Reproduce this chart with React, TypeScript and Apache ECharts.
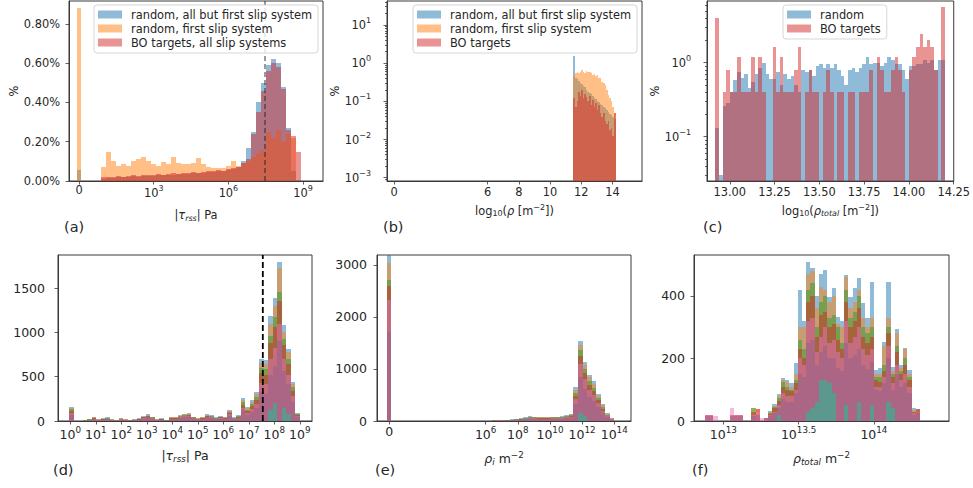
import React, { useEffect, useRef } from 'react';
import * as echarts from 'echarts';

// ================= DATA =================
// (a) |tau_rss| histogram, x in log10(Pa), y in %
const aBinStart = 0.9;
const aBinWidth = 0.2;
const aZeroBin = [-0.07, 0.07];
const aZeroOrange = 0.88;
const aZeroBlue = 0.055;
const aBlue = [0.01,0.015,0.015,0.02,0.02, 0.02,0.025,0.02,0.025,0.025, 0.025,0.03,0.03,0.03,0.03, 0.035,0.035,0.035,0.04,0.04, 0.04,0.045,0.045,0.05,0.05, 0.055,0.06,0.07,0.10,0.17, 0.25,0.40,0.50,0.59,0.62, 0.60,0.48,0.27,0.05,0];
const aOrange = [0.07,0.15,0.10,0.076,0.085, 0.076,0.10,0.11,0.12,0.10, 0.085,0.076,0.095,0.085,0.12, 0.093,0.085,0.088,0.093,0.115, 0.085,0.07,0.064,0.068,0.064, 0.076,0.10,0.076,0.093,0.10, 0.12,0.14,0.16,0.25,0.22, 0.26,0.20,0.24,0.22,0];
const aRed = [0.02,0.02,0.02,0.025,0.02, 0.025,0.03,0.025,0.03,0.03, 0.03,0.035,0.03,0.035,0.04, 0.035,0.04,0.04,0.045,0.04, 0.045,0.05,0.05,0.055,0.05, 0.06,0.065,0.07,0.09,0.11, 0.24,0.35,0.46,0.56,0.60, 0.58,0.47,0.26,0.23,0.15];
const aThreshold = 7.47;
const aXTicks = [0, 3, 6, 9];
const aYTicks = [0, 0.2, 0.4, 0.6, 0.8];

// (b) log10(rho) histogram, y in % (log scale)
const bBinStart = 11.5;
const bBinWidth = 0.1;
const bBlue = [1.5,0.42,0.38,0.34,0.31,0.28,0.25,0.23,0.2,0.18, 0.17,0.155,0.14,0.125,0.115,0.105,0.095,0.085,0.078,0.07, 0.065,0.058,0.052,0.047,0.043,0.04,0.035];
const bOrange = [0.5,0.55,0.6,0.55,0.6,0.65,0.6,0.55,0.62,0.58, 0.6,0.55,0.5,0.52,0.45,0.48,0.42,0.4,0.33,0.3, 0.26,0.2,0.15,0.12,0.1,0.07,0.05];
const bRed = [0.12,0.07,0.1,0.18,0.14,0.2,0.12,0.16,0.13,0.1, 0.14,0.08,0.11,0.07,0.09,0.06,0.08,0.05,0.04,0.05, 0.03,0.025,0.03,0.018,0.02,0.012,0.05];
const bXTicks = [0, 6, 8, 10, 12, 14];
const bYDecades = [-3, -2, -1, 0, 1];

// (c) log10(rho_total) histogram, y in % (log scale)
const cBinStart = 12.92;
const cBinWidth = 0.02;
const cBlue = [0.13,0.03,0.26,0.28,0.4,0.58,0.75,0.62,0.7,0.45, 0.55,0.7,0.85,1.0,0.7,0.6,0.6,0.75,0.5,0.7, 0.6,0.65,0.5,0.4,0.8,0.75,0.8,0.65,0.9,0.95, 0.85,0.95,0.85,0.95,0.8,0.65,0.5,0.8,0.85,0.75, 0.85,0.95,1.2,0.95,1.0,1.0,0.9,1.0,1.2,1.1, 0.95,0.95,0.8,0.6,0.9,0.9,0.95,0.95,1.1,1.0, 1.1,0.8,1.1,1.1];
const cRed = [4.0,0,0.4,0.8,0.4,0.4,1.2,0.4,0.4,0.4, 1.2,0.4,1.2,0.4,0,0,1.6,0.4,1.2,0.4, 0.4,0.4,0.8,1.6,0,0.4,0.8,0.4,0.4,0, 0.4,0.8,0.4,0,0.4,0.4,0,0.4,0.4,0, 0.4,0.4,0.4,0.8,0,1.2,0.8,0.4,0.4,0.8, 1.2,0.8,0.4,0,0.8,1.2,1.6,2.4,1.6,2.0, 1.6,0.8,0,5.6];
const cXTicks = [13, 13.25, 13.5, 13.75, 14, 14.25];
const cYDecades = [-1, 0];

// (d) |tau_rss| counts per slip-system group, x in log10(Pa)
const dBinStart = -0.051;
const dBinWidth = 0.1774;
const dBlue = [161,0,0,10,25,45,20,30,40,20, 10,35,20,10,20,30,55,75,50,20, 30,10,45,45,65,80,85,50,35,45, 75,65,40,55,45,120,40,65,265,161, 237,330,700,690,1189,1392,1791,1084,814,444, 87];
const dOrange = [150,0,0,8,22,40,18,26,36,18, 8,30,18,8,18,26,50,68,45,18, 26,8,40,40,60,74,80,45,30,40, 70,60,36,50,40,110,36,60,240,145, 215,300,660,640,1100,1300,1730,1000,780,420, 82];
const dGreen = [130,0,0,6,18,35,15,22,32,15, 6,26,15,6,15,22,45,62,40,15, 22,6,35,36,55,68,72,40,26,35, 62,55,30,45,35,100,30,52,210,125, 190,270,600,590,960,1170,1460,930,700,380, 75];
const dRed = [115,0,0,5,15,30,12,18,28,12, 5,22,12,5,12,18,40,55,35,12, 18,5,30,32,48,60,65,35,22,30, 55,48,26,40,30,90,26,45,185,110, 165,240,540,520,880,1060,1350,860,640,340, 68];
const dPink = [95,0,0,4,12,25,10,15,24,10, 4,18,10,4,10,15,34,48,30,10, 15,4,25,28,42,52,56,30,18,25, 48,42,22,34,25,75,22,38,150,90, 130,190,430,420,700,820,1100,700,520,280, 55];
const dMauve = [70,0,0,3,9,18,8,12,18,8, 3,14,8,3,8,12,28,40,25,8, 12,3,20,22,35,42,45,24,14,20, 40,35,18,28,20,60,18,30,120,70, 100,150,330,300,520,620,900,560,420,220, 45];
const dTeal = [0,0,0,0,0,0,0,0,0,0, 0,0,0,0,0,0,0,0,0,0, 0,0,0,0,0,0,0,0,0,0, 0,0,0,0,0,0,0,0,0,0, 0,0,0,0,120,200,0,150,80,0, 0];
const dThreshold = 7.55;
const dXTicks = [0, 1, 2, 3, 4, 5, 6, 7, 8, 9];
const dYTicks = [0, 500, 1000, 1500];

// (e) rho_i counts, x in log10(m^-2), 0 bin for zero density
const eBinStart = -0.143;
const eBinWidth = 0.283;
const eBlue = [3200, 0,0,0,0,0,0,0,0,0,0,0,0,0,0,0,0,0,0,0,0,0,0, 15,20,20,15,30,40,50,70,90,85,75,80,75,85,85,90,110,140,660,1545,1141,885,769,519,327,148,64];
const eOrange = [3030, 0,0,0,0,0,0,0,0,0,0,0,0,0,0,0,0,0,0,0,0,0,0, 12,18,18,12,26,36,45,62,80,76,68,72,68,76,76,80,100,125,600,1470,1080,840,720,490,300,135,55];
const eGreen = [2710, 0,0,0,0,0,0,0,0,0,0,0,0,0,0,0,0,0,0,0,0,0,0, 10,15,15,10,22,30,40,55,70,68,60,64,60,68,68,70,90,110,540,1370,1000,760,640,440,270,120,45];
const eRed = [2590, 0,0,0,0,0,0,0,0,0,0,0,0,0,0,0,0,0,0,0,0,0,0, 8,12,12,8,18,26,34,48,62,60,52,56,52,60,60,62,80,100,490,1250,930,700,580,400,240,105,40];
const ePink = [2330, 0,0,0,0,0,0,0,0,0,0,0,0,0,0,0,0,0,0,0,0,0,0, 6,10,10,6,14,20,28,40,52,50,44,46,44,50,50,52,68,85,420,1100,800,600,500,340,200,90,32];
const eMauve = [1720, 0,0,0,0,0,0,0,0,0,0,0,0,0,0,0,0,0,0,0,0,0,0, 4,7,7,4,10,15,20,30,40,38,34,36,34,38,38,40,52,65,330,850,620,460,380,260,150,70,25];
const eTeal = [0, 0,0,0,0,0,0,0,0,0,0,0,0,0,0,0,0,0,0,0,0,0,0, 0,0,0,0,0,0,0,0,0,0,0,0,0,0,0,0,0,0,0,150,100,0,0,0,0,0,0];
const eXTicks = [0, 6, 8, 10, 12, 14];
const eYTicks = [0, 1000, 2000, 3000];

// (f) rho_total counts, x in log10(m^-2)
const fBinStart = 12.878;
const fBinWidth = 0.02802;
const fBlue = [0,0,0,0,0,0,0,0,0,0, 0,0,0,0,0,32,53,85,136,131, 121,186,420,320,510,488,401,469,483,398, 427,334,320,467,398,425,459,376,328,445, 163,168,254,445,174,295,180,235,163,40, 38];
const fOrange = [19,19,0,0,0,0,19,19,19,0, 0,40,38,0,8,30,48,80,130,125, 110,150,300,300,470,480,360,430,420,380, 400,310,300,460,360,380,420,330,300,330, 150,150,240,330,160,280,170,230,150,35, 35];
const fGreen = [0,0,0,0,0,0,0,0,0,0, 0,40,0,0,0,25,45,75,125,110, 100,130,260,230,420,440,300,380,400,330, 340,300,250,420,330,350,400,300,280,300, 140,140,180,300,150,240,160,200,140,30, 30];
const fRed = [19,19,0,0,0,0,19,19,19,0, 0,30,38,0,8,22,40,65,110,100, 95,120,230,200,380,400,270,340,350,300, 310,260,230,380,300,320,360,270,250,270, 130,125,160,280,140,220,150,180,130,30, 38];
const fPink = [19,19,16,0,0,0,40,19,19,0, 0,20,30,8,8,18,30,50,90,80, 80,100,200,180,320,330,220,270,300,250, 260,220,200,320,250,270,300,230,210,230, 110,110,140,240,120,180,130,150,110,25, 30];
const fMauve = [15,15,0,0,0,0,15,15,15,0, 0,15,20,0,8,15,25,40,70,60, 60,90,150,140,250,260,180,220,240,200, 200,170,160,250,200,210,230,180,165,190, 100,95,120,200,100,150,110,120,90,20, 25];
const fTeal = [0,0,0,0,0,0,0,0,0,0, 0,0,0,0,0,0,0,20,0,0, 0,0,0,0,30,40,60,130,130,120, 90,0,0,50,0,0,60,0,0,50, 0,0,0,60,40,0,0,0,0,0, 0];
const fXTicks = [13, 13.5, 14, 14.5];
const fYTicks = [0, 200, 400];

const legendA = ['random, all but first slip system', 'random, first slip system', 'BO targets, all slip systems'];
const legendB = ['random, all but first slip system', 'random, first slip system', 'BO targets'];
const legendC = ['random', 'BO targets'];

// ================= STYLE =================
const FONT = 'DejaVu Sans';
const TXT = '#262626';
const AX = '#3a3a3a';
const COL: any = {
  blue: 'rgba(31,119,180,0.5)',
  orange: 'rgba(255,127,14,0.5)',
  green: 'rgba(44,160,44,0.5)',
  red: 'rgba(214,39,40,0.5)',
  pink: 'rgba(227,119,194,0.5)',
  mauve: 'rgba(148,95,140,0.5)',
  teal: 'rgba(40,185,150,0.6)',
};

function binsOf(start: number, width: number, values: number[]) {
  const out: number[][] = [];
  values.forEach((v, i) => out.push([start + i * width, start + (i + 1) * width, v]));
  return out;
}

function hist(name: string, gi: number, yi: number, bins: number[][], color: string, base: number, log: boolean) {
  const data = bins
    .filter((b) => b[2] > 0)
    .map((b) => [b[0], b[1], log ? Math.log10(b[2]) : b[2]]);
  return {
    type: 'custom',
    name,
    xAxisIndex: gi,
    yAxisIndex: yi,
    clip: true,
    silent: true,
    itemStyle: { color },
    encode: { x: [0, 1], y: 2 },
    data,
    renderItem: (params: any, api: any) => {
      const p0 = api.coord([api.value(0), api.value(2)]);
      const p1 = api.coord([api.value(1), base]);
      const x0 = Math.round(p0[0]);
      const x1 = Math.round(p1[0]);
      const y0 = Math.round(p0[1]);
      const y1 = Math.round(p1[1]);
      if (y1 - y0 <= 0) return null;
      return {
        type: 'rect',
        shape: { x: x0, y: y0, width: Math.max(1, x1 - x0), height: y1 - y0 },
        style: { fill: color },
      };
    },
  };
}

const expStr = (n: number) => (n < 0 ? '\u2212' + Math.abs(n) : String(n));

function buildOption() {
  const supRich = (fs: number) => ({
    sup: { fontSize: fs * 0.7, fontFamily: FONT, color: TXT, padding: [0, 0, Math.round(fs * 0.75), 0] },
  });
  const nameRich = (fs: number) => ({
    it: { fontSize: fs, fontFamily: FONT, fontStyle: 'italic', color: TXT },
    sub: { fontSize: fs * 0.7, fontFamily: FONT, color: TXT, padding: [Math.round(fs * 0.5), 0, 0, 0] },
    subi: { fontSize: fs * 0.7, fontFamily: FONT, fontStyle: 'italic', color: TXT, padding: [Math.round(fs * 0.5), 0, 0, 0] },
    sup: { fontSize: fs * 0.7, fontFamily: FONT, color: TXT, padding: [0, 0, Math.round(fs * 0.6), 0] },
  });
  const tick = (vals: number[], len = 3.5) => ({
    show: true,
    customValues: vals,
    length: len,
    lineStyle: { color: AX, width: 0.8 },
  });

  const xAxis = (gi: number, min: number, max: number, ticks: number[], formatter: any, fs: number, margin: number, name: string, nameGap: number) => ({
    type: 'value', gridIndex: gi, min, max, position: 'bottom',
    axisLine: { show: true, onZero: false, lineStyle: { color: AX, width: 1 } },
    axisTick: tick(ticks),
    axisLabel: { customValues: ticks, formatter, fontSize: fs, fontFamily: FONT, color: TXT, margin, rich: supRich(fs) },
    splitLine: { show: false },
    name, nameLocation: 'middle', nameGap,
    nameTextStyle: { fontSize: fs, fontFamily: FONT, color: TXT, rich: nameRich(fs) },
  });
  const yAxis = (gi: number, min: number, max: number, ticks: number[], formatter: any, fs: number, margin: number, name: string, nameGap: number) => ({
    type: 'value', gridIndex: gi, min, max, position: 'left',
    axisLine: { show: true, onZero: false, lineStyle: { color: AX, width: 1 } },
    axisTick: tick(ticks),
    axisLabel: { customValues: ticks, formatter, fontSize: fs, fontFamily: FONT, color: TXT, margin, rich: supRich(fs) },
    splitLine: { show: false },
    name, nameLocation: 'middle', nameGap,
    nameTextStyle: { fontSize: fs, fontFamily: FONT, color: TXT },
  });
  const minorAxis = (gi: number, min: number, max: number, decades: number[]) => {
    const vals: number[] = [];
    decades.forEach((d) => {
      for (let m = 2; m <= 9; m++) {
        const v = d + Math.log10(m);
        if (v > min && v < max) vals.push(v);
      }
    });
    return {
      type: 'value', gridIndex: gi, min, max, position: 'left',
      axisLine: { show: false, onZero: false },
      axisTick: tick(vals, 2),
      axisLabel: { show: false },
      splitLine: { show: false },
    };
  };

  const TOP_FS = 11.4;
  const BOT_FS = 12.5;

  const aY = [0, 0.916];
  const bY = [-3.086, 1.626];
  const cY = [-1.6, 0.832];
  const dY = [0, 1873];
  const eY = [0, 3192];
  const fY = [0, 531];

  const grids = [
    { left: 69, top: 1, width: 254, height: 180 },
    { left: 387, top: 1, width: 255, height: 180 },
    { left: 707, top: 1, width: 249, height: 180 },
    { left: 58, top: 255, width: 254, height: 166 },
    { left: 377, top: 255, width: 254, height: 166 },
    { left: 694, top: 255, width: 255, height: 166 },
  ].map((g) => ({ ...g, show: true, borderColor: AX, borderWidth: 1, backgroundColor: 'transparent', containLabel: false }));

  const tenPow = (v: number) => `10{sup|${expStr(v)}}`;

  const xAxes = [
    xAxis(0, -0.402, 9.799, aXTicks, (v: number) => (v === 0 ? '0' : tenPow(v)), TOP_FS, 3, '|{it|τ}{subi|rss}| Pa', 27),
    xAxis(1, -0.449, 15.897, bXTicks, (v: number) => String(v), TOP_FS, 5, 'log{sub|10}({it|ρ} [m{sup|−2}])', 22),
    xAxis(2, 12.873, 14.2502, cXTicks, (v: number) => v.toFixed(2), TOP_FS, 5, 'log{sub|10}({it|ρ}{subi|total} [m{sup|−2}])', 22),
    xAxis(3, -0.482, 9.479, dXTicks, (v: number) => tenPow(v), BOT_FS, 4, '|{it|τ}{subi|rss}| Pa', 27),
    xAxis(4, -0.759, 15.042, eXTicks, (v: number) => (v === 0 ? '0' : tenPow(v)), BOT_FS, 4, '{it|ρ}{subi|i} m{sup|−2}', 29),
    xAxis(5, 12.8054, 14.4986, fXTicks, (v: number) => tenPow(v), BOT_FS, 4, '{it|ρ}{subi|total} m{sup|−2}', 29),
  ];
  const yAxes = [
    yAxis(0, aY[0], aY[1], aYTicks, (v: number) => v.toFixed(2) + '%', TOP_FS, 9, '%', 47),
    yAxis(1, bY[0], bY[1], bYDecades, (v: number) => tenPow(v), TOP_FS, 16, '%', 39),
    yAxis(2, cY[0], cY[1], cYDecades, (v: number) => tenPow(v), TOP_FS, 16, '%', 40),
    yAxis(3, dY[0], dY[1], dYTicks, (v: number) => String(v), BOT_FS, 13, '', 0),
    yAxis(4, eY[0], eY[1], eYTicks, (v: number) => String(v), BOT_FS, 10, '', 0),
    yAxis(5, fY[0], fY[1], fYTicks, (v: number) => String(v), BOT_FS, 9, '', 0),
    minorAxis(1, bY[0], bY[1], [-4, -3, -2, -1, 0, 1]),
    minorAxis(2, cY[0], cY[1], [-2, -1, 0]),
  ];

  const series: any[] = [
    // (a)
    hist(legendA[0], 0, 0, [[aZeroBin[0], aZeroBin[1], aZeroBlue], ...binsOf(aBinStart, aBinWidth, aBlue)], COL.blue, aY[0], false),
    hist(legendA[1], 0, 0, [[aZeroBin[0], aZeroBin[1], aZeroOrange], ...binsOf(aBinStart, aBinWidth, aOrange)], COL.orange, aY[0], false),
    hist(legendA[2], 0, 0, binsOf(aBinStart, aBinWidth, aRed), COL.red, aY[0], false),
    {
      type: 'line', name: 'threshold a', xAxisIndex: 0, yAxisIndex: 0, silent: true, symbol: 'none',
      data: [[aThreshold, aY[0]], [aThreshold, aY[1]]],
      lineStyle: { color: 'rgba(30,30,30,0.75)', width: 1.2, type: [5, 3] },
    },
    // (b)
    hist(legendB[0], 1, 1, binsOf(bBinStart, bBinWidth, bBlue), COL.blue, bY[0], true),
    hist(legendB[1], 1, 1, binsOf(bBinStart, bBinWidth, bOrange), COL.orange, bY[0], true),
    hist(legendB[2], 1, 1, binsOf(bBinStart, bBinWidth, bRed), COL.red, bY[0], true),
    // (c)
    hist(legendC[0], 2, 2, binsOf(cBinStart, cBinWidth, cBlue), COL.blue, cY[0], true),
    hist(legendC[1], 2, 2, binsOf(cBinStart, cBinWidth, cRed), COL.red, cY[0], true),
  ];
  const layers = ['blue', 'orange', 'green', 'red', 'pink', 'mauve', 'teal'];
  const dSets = [dBlue, dOrange, dGreen, dRed, dPink, dMauve, dTeal];
  const eSets = [eBlue, eOrange, eGreen, eRed, ePink, eMauve, eTeal];
  const fSets = [fBlue, fOrange, fGreen, fRed, fPink, fMauve, fTeal];
  dSets.forEach((vals, i) => series.push(hist('d ' + layers[i], 3, 3, binsOf(dBinStart, dBinWidth, vals), COL[layers[i]], 0, false)));
  series.push({
    type: 'line', name: 'threshold d', xAxisIndex: 3, yAxisIndex: 3, silent: true, symbol: 'none',
    data: [[dThreshold, dY[0]], [dThreshold, dY[1]]],
    lineStyle: { color: '#000', width: 1.8, type: [6, 3] },
  });
  eSets.forEach((vals, i) => series.push(hist('e ' + layers[i], 4, 4, binsOf(eBinStart, eBinWidth, vals), COL[layers[i]], 0, false)));
  fSets.forEach((vals, i) => series.push(hist('f ' + layers[i], 5, 5, binsOf(fBinStart, fBinWidth, vals), COL[layers[i]], 0, false)));

  const legendBase = {
    orient: 'vertical', icon: 'rect', itemWidth: 24, itemHeight: 8, itemGap: 3,
    padding: [4, 6, 5, 4], backgroundColor: 'rgba(255,255,255,0.8)',
    borderColor: 'rgba(204,204,204,0.8)', borderWidth: 1, borderRadius: 3,
    selectedMode: false,
    textStyle: { fontSize: TOP_FS, fontFamily: FONT, color: TXT, padding: [0, 0, 0, 4] },
  };

  const panelLabel = (text: string, x: number, y: number) => ({
    type: 'text', left: x, top: y, silent: true,
    style: { text, fontSize: 14.5, fontFamily: FONT, fill: TXT },
  });

  return {
    animation: false,
    backgroundColor: '#ffffff',
    textStyle: { fontFamily: FONT },
    grid: grids,
    xAxis: xAxes,
    yAxis: yAxes,
    legend: [
      { ...legendBase, data: legendA, left: 94, top: 5 },
      { ...legendBase, data: legendB, left: 413, top: 5 },
      { ...legendBase, data: legendC, left: 783, top: 5 },
    ],
    graphic: [
      panelLabel('(a)', 64, 219),
      panelLabel('(b)', 383, 219),
      panelLabel('(c)', 703, 219),
      panelLabel('(d)', 53, 462),
      panelLabel('(e)', 375, 462),
      panelLabel('(f)', 692, 462),
    ],
    series,
  };
}

export default function App() {
  const ref = useRef<HTMLDivElement>(null);
  useEffect(() => {
    if (!ref.current) return;
    const chart = echarts.init(ref.current, null, { renderer: 'svg' });
    chart.setOption(buildOption() as any);
    return () => chart.dispose();
  }, []);
  return (
    <div
      ref={ref}
      style={{ position: 'fixed', left: 0, top: 0, width: 973, height: 488, background: '#fff' }}
    />
  );
}
